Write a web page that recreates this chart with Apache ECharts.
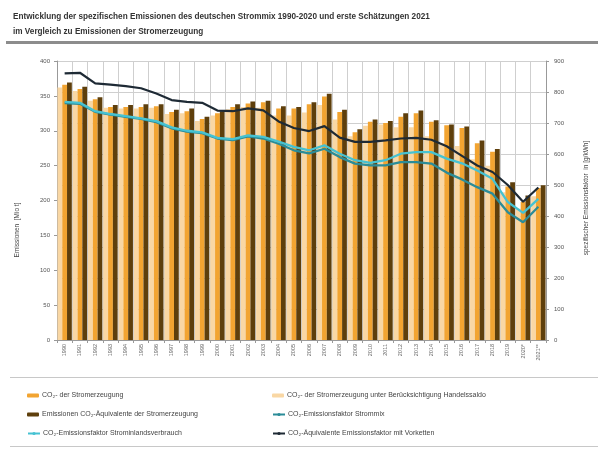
<!DOCTYPE html>
<html>
<head>
<meta charset="utf-8">
<script src="https://cdn.jsdelivr.net/npm/echarts@6/dist/echarts.min.js"></script>
<style>
html,body{margin:0;padding:0;background:#fff;}
#chart{width:603px;height:454px;}
</style>
</head>
<body>
<div id="chart"></div>
<script>
const years = ['1990','1991','1992','1993','1994','1995','1996','1997','1998','1999','2000','2001','2002','2003','2004','2005','2006','2007','2008','2009','2010','2011','2012','2013','2014','2015','2016','2017','2018','2019','2020*','2021**'];
// Mio t CO2
const co2Erzeugung = [366,360,345,334,334,334,335,327,328,317,325,334,339,341,332,332,338,349,327,298,313,311,320,325,313,308,304,282,270,220,198,218];
const co2Handelssaldo = [362,357,343,333,332,332,333,324,325,314,322,331,334,333,322,322,326,337,316,292,307,309,305,305,292,282,278,259,250,212,188,206];
const co2Aequivalente = [369,363,348,337,337,338,338,330,332,320,328,338,342,343,335,334,341,353,330,302,316,314,325,329,315,309,306,286,274,226,207,222];
// g/kWh
const efStrommix = [764,762,736,727,720,713,703,683,672,667,650,645,657,650,633,612,602,617,590,569,563,563,574,574,569,540,518,493,472,412,380,430];
const efInlandsverbrauch = [768,765,738,729,722,715,706,686,675,670,652,648,660,655,640,623,612,628,601,580,571,580,601,606,606,585,570,547,520,445,410,455];
const efVorketten = [860,862,828,824,819,812,795,774,768,765,740,738,747,741,705,684,674,690,653,639,639,644,650,652,646,625,594,563,542,500,446,492];

const names = {
  a: 'CO\u2082- der Stromerzeugung',
  b: 'CO\u2082- der Stromerzeugung unter Berücksichtigung Handelssaldo',
  c: 'Emissionen CO\u2082-Äquivalente der Stromerzeugung',
  d: 'CO\u2082-Emissionsfaktor Strommix',
  e: 'CO\u2082-Emissionsfaktor Strominlandsverbrauch',
  f: 'CO\u2082-Äquivalente Emissionsfaktor mit Vorketten'
};
const FONT = 'Liberation Sans';
const chart = echarts.init(document.getElementById('chart'), null, {renderer: 'canvas'});
const legendBase = {itemWidth: 12, itemHeight: 4, itemGap: 0, padding: 0,
  textStyle: {fontSize: 7, color: '#444', fontFamily: FONT, padding: [0,0,0,-2]}};
function lg(name, left, top) { return Object.assign({}, legendBase, {data: [name], left: left, top: top}); }

const option = {
  animation: false,
  backgroundColor: '#fff',
  textStyle: {fontFamily: FONT},
  title: {
    text: 'Entwicklung der spezifischen Emissionen des deutschen Strommix 1990-2020 und erste Schätzungen 2021\nim Vergleich zu Emissionen der Stromerzeugung',
    left: 8, top: 4,
    textStyle: {fontSize: 8.2, fontWeight: 'bold', color: '#333', lineHeight: 15, fontFamily: FONT}
  },
  legend: [
    lg(names.a, 27, 392), lg(names.b, 272, 392),
    lg(names.c, 27, 411), lg(names.d, 272, 411),
    lg(names.e, 27, 430), lg(names.f, 272, 430)
  ],
  graphic: [
    {type: 'rect', shape: {x: 6, y: 41, width: 592, height: 3}, style: {fill: '#8c8c8c'}, silent: true},
    {type: 'rect', shape: {x: 10, y: 377, width: 588, height: 1}, style: {fill: '#c8c8c8'}, silent: true},
    {type: 'rect', shape: {x: 10, y: 446, width: 588, height: 1}, style: {fill: '#c8c8c8'}, silent: true},
    {type: 'text', x: 17, y: 230, rotation: Math.PI / 2,
      style: {text: 'Emissionen  [Mio t]', fontSize: 6.5, fill: '#444', align: 'center', verticalAlign: 'middle', fontFamily: FONT}},
    {type: 'text', x: 586, y: 198, rotation: Math.PI / 2,
      style: {text: 'spezifischer Emissionsfaktor  in [g/kWh]', fontSize: 6.5, fill: '#444', align: 'center', verticalAlign: 'middle', fontFamily: FONT}}
  ],
  grid: {left: 57, right: 57, top: 61, bottom: 114, containLabel: false},
  xAxis: {
    type: 'category', data: years, boundaryGap: true,
    axisLine: {lineStyle: {color: '#999'}},
    axisTick: {show: true, alignWithLabel: false, length: 3, lineStyle: {color: '#999'}},
    axisLabel: {rotate: 90, fontSize: 5.5, color: '#666', margin: 4, interval: 0},
    splitLine: {show: true, interval: 0, lineStyle: {color: '#cfcfcf', width: 1}}
  },
  yAxis: [
    {type: 'value', min: 0, max: 400, interval: 50,
      axisLine: {show: true, lineStyle: {color: '#999'}},
      axisTick: {show: true, length: 3, lineStyle: {color: '#999'}},
      axisLabel: {fontSize: 6, color: '#555', margin: 7},
      splitLine: {show: false}},
    {type: 'value', min: 0, max: 900, interval: 100, position: 'right',
      axisLine: {show: true, lineStyle: {color: '#999'}},
      axisTick: {show: true, length: 3, lineStyle: {color: '#999'}},
      axisLabel: {fontSize: 6, color: '#555', margin: 8},
      splitLine: {show: true, lineStyle: {color: '#cfcfcf', width: 1}}}
  ],
  series: [
    {name: names.b, type: 'bar', data: co2Handelssaldo, itemStyle: {color: '#f9d7a4'}, barGap: '0%', barCategoryGap: '6%'},
    {name: names.a, type: 'bar', data: co2Erzeugung, itemStyle: {color: '#f2a431'}, barGap: '0%', barCategoryGap: '6%'},
    {name: names.c, type: 'bar', data: co2Aequivalente, itemStyle: {color: '#5e3f0c'}, barGap: '0%', barCategoryGap: '6%'},
    {name: names.d, type: 'line', yAxisIndex: 1, data: efStrommix, symbol: 'none', z: 5,
      lineStyle: {color: '#2b8c98', width: 2.3}, itemStyle: {color: '#2b8c98'}},
    {name: names.e, type: 'line', yAxisIndex: 1, data: efInlandsverbrauch, symbol: 'none', z: 5,
      lineStyle: {color: '#46c2d2', width: 2.3}, itemStyle: {color: '#46c2d2'}},
    {name: names.f, type: 'line', yAxisIndex: 1, data: efVorketten, symbol: 'none', z: 6,
      lineStyle: {color: '#1e2a35', width: 2.2}, itemStyle: {color: '#1e2a35'}}
  ]
};
chart.setOption(option);
</script>
</body>
</html>
